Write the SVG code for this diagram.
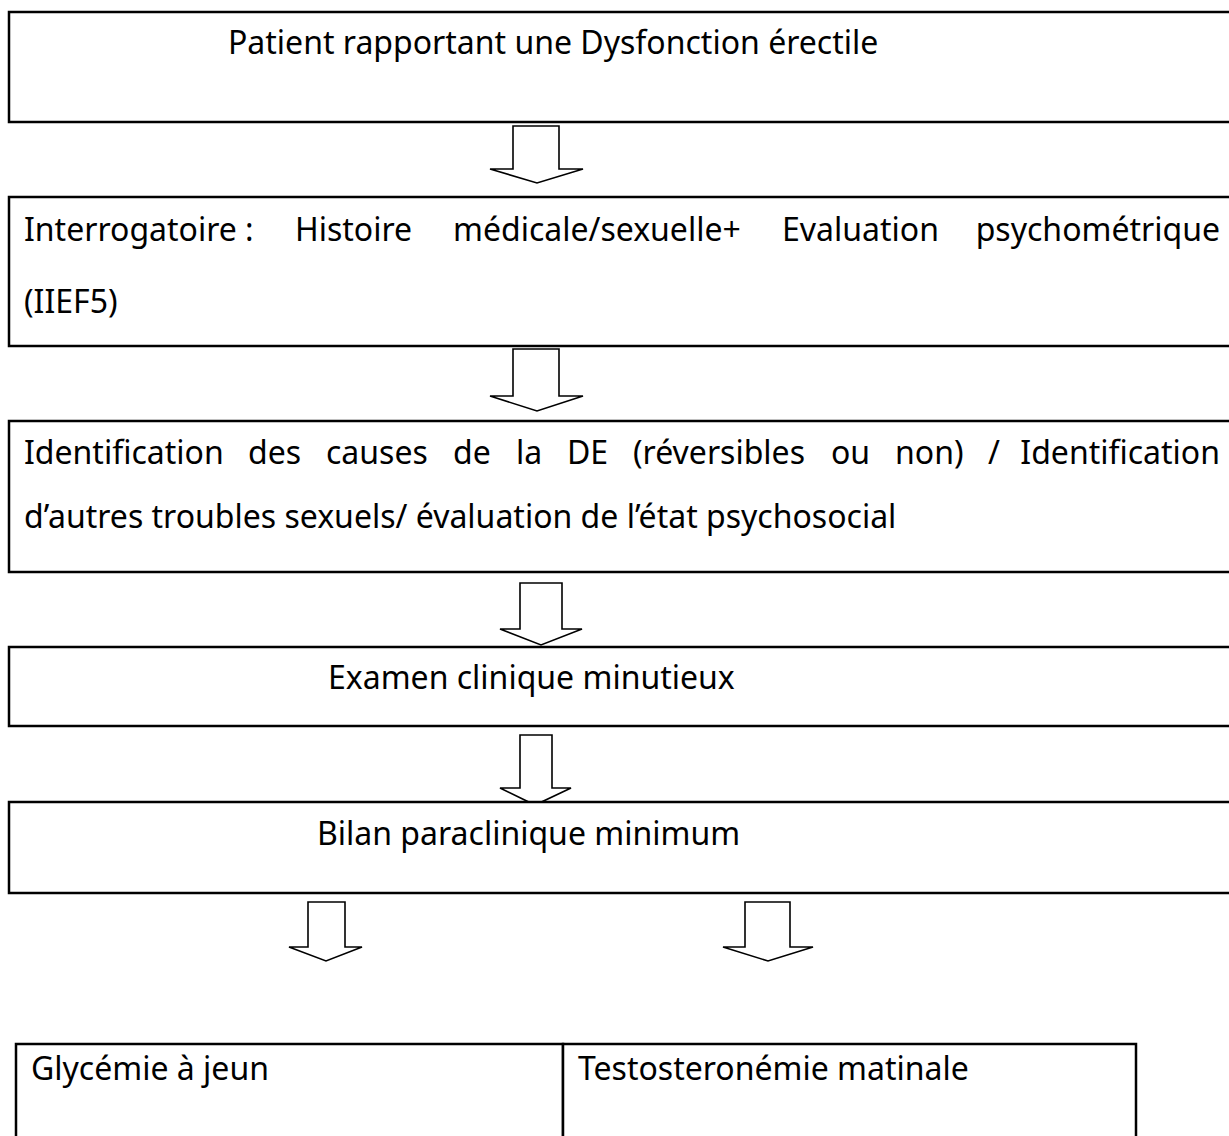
<svg xmlns="http://www.w3.org/2000/svg" width="1229" height="1136" viewBox="0 0 1229 1136">
<style>
.box{fill:#fff;stroke:#000;stroke-width:2.5}
.arr{fill:#fff;stroke:#000;stroke-width:1.6;stroke-linejoin:miter}
text{font-family:"Noto Sans","DejaVu Sans",sans-serif;font-size:32px;fill:#000}
.end{text-anchor:end}
</style>
<rect width="1229" height="1136" fill="#fff"/>
<g id="connectors">
<polygon class="arr" points="513,126 559,126 559,169 583,169 537,183 490,169 513,169"/>
<polygon class="arr" points="513,349 559,349 559,396 583,396 537,411 490,396 513,396"/>
<polygon class="arr" points="520,583 562,583 562,629 582,629 541,645 500,629 520,629"/>
<polygon class="arr" points="520,735 552,735 552,788 571,788 535,805 500,788 520,788"/>
<polygon class="arr" points="308,902 345,902 345,947 362,947 326,961 289,947 308,947"/>
<polygon class="arr" points="745,902 790,902 790,947 813,947 768,961 723,947 745,947"/>
</g>
<g id="node1">
<rect class="box" x="9" y="12" width="1240" height="110"/>
<text x="228" y="54">Patient rapportant une Dysfonction érectile</text>
</g>
<g id="node2">
<rect class="box" x="9" y="197" width="1240" height="149"/>
<text x="24" y="241">Interrogatoire :</text>
<text x="295" y="241">Histoire</text>
<text x="453" y="241">médicale/sexuelle+</text>
<text x="782" y="241">Evaluation</text>
<text class="end" x="1220" y="241">psychométrique</text>
<text x="24" y="313">(IIEF5)</text>
</g>
<g id="node3">
<rect class="box" x="9" y="421" width="1240" height="151"/>
<text x="24" y="464">Identification</text>
<text x="248" y="464">des</text>
<text x="326" y="464">causes</text>
<text x="453" y="464">de</text>
<text x="516" y="464">la</text>
<text x="567" y="464">DE</text>
<text x="633" y="464">(réversibles</text>
<text x="831" y="464">ou</text>
<text x="895" y="464">non)</text>
<text x="988" y="464">/</text>
<text class="end" x="1220" y="464">Identification</text>
<text x="24" y="528">d’autres troubles sexuels/ évaluation de l’état psychosocial</text>
</g>
<g id="node4">
<rect class="box" x="9" y="647" width="1240" height="79"/>
<text x="328" y="689">Examen clinique minutieux</text>
</g>
<g id="node5">
<rect class="box" x="9" y="802" width="1240" height="91"/>
<text x="317" y="845">Bilan paraclinique minimum</text>
</g>
<g id="node6">
<rect class="box" x="16" y="1044" width="547" height="120"/>
<text x="31" y="1080">Glycémie à jeun</text>
</g>
<g id="node7">
<rect class="box" x="563" y="1044" width="573" height="120"/>
<text x="578" y="1080">Testosteronémie matinale</text>
</g>
</svg>
